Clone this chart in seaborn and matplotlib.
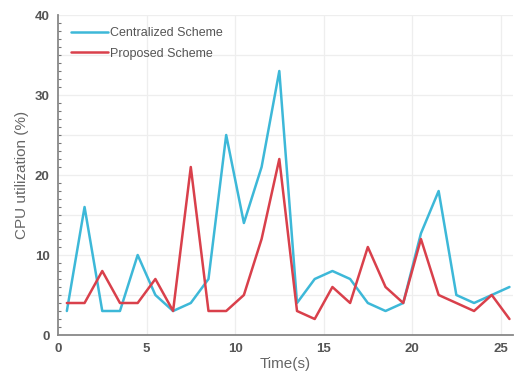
import numpy as np
import pandas as pd
import seaborn as sns
import matplotlib
matplotlib.use("Agg")
import matplotlib.pyplot as plt
from matplotlib.ticker import MultipleLocator

time_s = [0.5, 1.5, 2.5, 3.5, 4.5, 5.5, 6.5, 7.5, 8.5, 9.5, 10.5, 11.5, 12.5,
          13.5, 14.5, 15.5, 16.5, 17.5, 18.5, 19.5, 20.5, 21.5, 22.5, 23.5, 24.5, 25.5]
centralized = [3, 16, 3, 3, 10, 5, 3, 4, 7, 25, 14, 21, 33,
               4, 7, 8, 7, 4, 3, 4, 12.7, 18, 5, 4, 5, 6]
proposed = [4, 4, 8, 4, 4, 7, 3, 21, 3, 3, 5, 12, 22,
            3, 2, 6, 4, 11, 6, 4, 12, 5, 4, 3, 5, 2]
series_names = ["Centralized Scheme", "Proposed Scheme"]

df = pd.DataFrame({
    "Time": time_s * 2,
    "CPU": centralized + proposed,
    "Scheme": [series_names[0]] * len(time_s) + [series_names[1]] * len(time_s),
})

sns.set_style("white")
plt.rcParams['font.family'] = ['Liberation Sans', 'DejaVu Sans']

fig = plt.figure(figsize=(5.2, 3.71), dpi=100)
ax = fig.add_axes([58 / 520, 36 / 371, 455 / 520, 320 / 371])

sns.lineplot(data=df, x="Time", y="CPU", hue="Scheme",
             palette={series_names[0]: "#3DB8D8", series_names[1]: "#D9404B"},
             linewidth=1.8, ax=ax, legend=True)

ax.set_xlim(0, 25.7)
ax.set_ylim(0, 40)
ax.xaxis.set_major_locator(MultipleLocator(5))
ax.yaxis.set_major_locator(MultipleLocator(10))
ax.yaxis.set_minor_locator(MultipleLocator(1))
ax.tick_params(axis='both', which='major', direction='in', length=3, width=1,
               color='#777777', labelsize=9.5, labelcolor='#555555', pad=6)
ax.tick_params(axis='y', which='minor', direction='in', length=2, width=0.8,
               color='#777777', left=True)
ax.tick_params(axis='x', which='minor', bottom=False)
for lab in ax.get_xticklabels() + ax.get_yticklabels():
    lab.set_fontweight('bold')

# faint grid every 5 units
for v in range(5, 26, 5):
    ax.axvline(v, color='#eeeeee', lw=0.9, zorder=0)
for v in range(5, 41, 5):
    ax.axhline(v, color='#eeeeee', lw=0.9, zorder=0)

for s in ['top', 'right']:
    ax.spines[s].set_visible(False)
for s in ['left', 'bottom']:
    ax.spines[s].set_color('#888888')
    ax.spines[s].set_linewidth(1.3)

ax.set_xlabel("Time(s)", fontsize=11, color='#666666', labelpad=1)
ax.set_ylabel("CPU utilization (%)", fontsize=11, color='#666666', labelpad=4)

leg = ax.legend(loc='upper left', frameon=False, fontsize=9, handlelength=3.0,
                handletextpad=0.15, labelspacing=0.65, borderaxespad=0.6,
                bbox_to_anchor=(0.0, 1.0))
for t in leg.get_texts():
    t.set_color('#555555')

fig.savefig("out.png", dpi=100)
